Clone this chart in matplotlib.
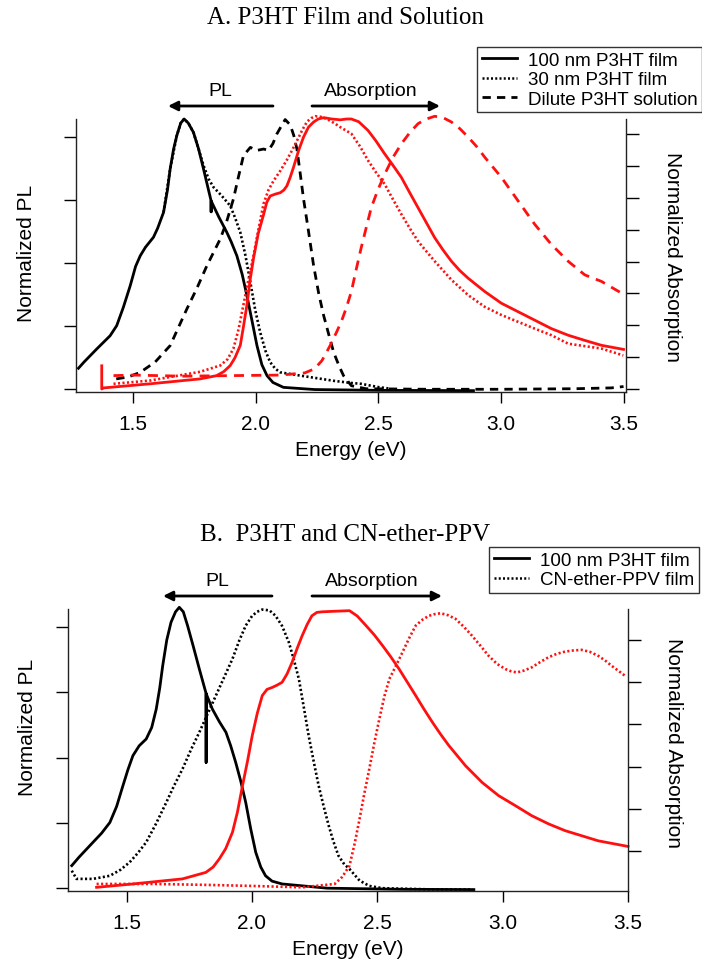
import numpy as np
import matplotlib.pyplot as plt
from matplotlib.lines import Line2D

plt.rcParams['font.family'] = ['Liberation Sans', 'DejaVu Sans']

# ---------------- panel A : P3HT film and solution ----------------
# PL (left axis), 100 nm film
a_pl100_E = [1.277, 1.30, 1.352, 1.406, 1.433, 1.46, 1.488, 1.51, 1.529, 1.55,
             1.583, 1.60, 1.624, 1.64, 1.651, 1.665, 1.678, 1.694, 1.708, 1.725,
             1.746, 1.767, 1.787, 1.818, 1.818, 1.818, 1.85, 1.882, 1.90, 1.923,
             1.945, 1.964, 1.985, 2.005, 2.025, 2.046, 2.07, 2.113, 2.24, 2.5, 2.888]
a_pl100_v = [0.087, 0.11, 0.158, 0.206, 0.243, 0.31, 0.389, 0.46, 0.499, 0.53,
             0.567, 0.60, 0.658, 0.74, 0.817, 0.89, 0.939, 0.985, 1.0, 0.985,
             0.951, 0.89, 0.817, 0.70, 0.66, 0.70, 0.64, 0.585, 0.55, 0.499,
             0.43, 0.353, 0.26, 0.17, 0.10, 0.06, 0.035, 0.017, 0.009, 0.006, 0.005]
# PL, 30 nm film
a_pl30_E = [1.624, 1.651, 1.678, 1.694, 1.708, 1.725, 1.746, 1.767, 1.787, 1.808,
            1.828, 1.86, 1.896, 1.915, 1.937, 1.958, 1.978, 1.998, 2.018, 2.04,
            2.059, 2.08, 2.1, 2.182, 2.318, 2.39, 2.43, 2.5, 2.55]
a_pl30_v = [0.658, 0.817, 0.939, 0.985, 1.0, 0.985, 0.951, 0.89, 0.83, 0.78,
            0.75, 0.72, 0.682, 0.64, 0.585, 0.50, 0.402, 0.30, 0.219, 0.15,
            0.109, 0.085, 0.072, 0.06, 0.041, 0.033, 0.03, 0.018, 0.012]
# PL, dilute solution
a_plsol_E = [1.431, 1.48, 1.529, 1.59, 1.651, 1.719, 1.76, 1.801, 1.855, 1.88,
             1.909, 1.93, 1.95, 1.978, 2.005, 2.032, 2.052, 2.07, 2.086, 2.105,
             2.12, 2.141, 2.155, 2.168, 2.18, 2.195, 2.215, 2.236, 2.257, 2.277,
             2.298, 2.318, 2.34, 2.358, 2.39, 2.45, 2.7, 3.0, 3.3, 3.45, 3.5]
a_plsol_v = [0.048, 0.055, 0.072, 0.11, 0.17, 0.304, 0.38, 0.463, 0.56, 0.62,
             0.707, 0.79, 0.866, 0.896, 0.885, 0.89, 0.885, 0.91, 0.945, 0.975,
             0.998, 0.978, 0.94, 0.89, 0.81, 0.707, 0.59, 0.463, 0.36, 0.28,
             0.21, 0.145, 0.095, 0.06, 0.023, 0.012, 0.01, 0.01, 0.012, 0.015, 0.02]
# absorption (right axis), 100 nm film
a_ab100_E = [1.372, 1.372, 1.38, 1.569, 1.773, 1.841, 1.87, 1.896, 1.915, 1.937,
             1.95, 1.964, 1.977, 1.991, 2.01, 2.032, 2.045, 2.059, 2.08, 2.1,
             2.115, 2.127, 2.14, 2.154, 2.175, 2.195, 2.215, 2.236, 2.255, 2.277,
             2.31, 2.345, 2.37, 2.39, 2.42, 2.458, 2.49, 2.526, 2.56, 2.594,
             2.628, 2.662, 2.696, 2.73, 2.764, 2.798, 2.832, 2.866, 2.934, 3.002,
             3.07, 3.138, 3.206, 3.274, 3.342, 3.41, 3.5]
a_ab100_v = [0.096, 0.011, 0.015, 0.03, 0.048, 0.06, 0.075, 0.097, 0.125, 0.171,
             0.24, 0.318, 0.41, 0.49, 0.58, 0.65, 0.695, 0.718, 0.725, 0.73,
             0.74, 0.755, 0.785, 0.823, 0.885, 0.934, 0.97, 0.989, 1.0, 1.005,
             1.0, 0.997, 1.0, 1.0, 0.99, 0.958, 0.92, 0.872, 0.83, 0.786,
             0.73, 0.675, 0.62, 0.565, 0.52, 0.479, 0.445, 0.417, 0.368, 0.325,
             0.294, 0.263, 0.232, 0.208, 0.189, 0.171, 0.156]
# absorption, 30 nm film
a_ab30_E = [1.42, 1.569, 1.773, 1.855, 1.885, 1.909, 1.93, 1.95, 1.97, 1.991,
            2.012, 2.032, 2.052, 2.073, 2.1, 2.127, 2.148, 2.168, 2.19, 2.209,
            2.226, 2.243, 2.265, 2.29, 2.32, 2.345, 2.39, 2.425, 2.458, 2.49,
            2.526, 2.56, 2.594, 2.628, 2.662, 2.696, 2.73, 2.798, 2.866, 2.934,
            3.002, 3.07, 3.138, 3.206, 3.274, 3.342, 3.41, 3.499]
a_ab30_v = [0.03, 0.042, 0.074, 0.097, 0.12, 0.159, 0.23, 0.32, 0.41, 0.50,
            0.60, 0.69, 0.74, 0.774, 0.81, 0.85, 0.885, 0.92, 0.96, 0.99,
            1.003, 1.01, 1.008, 1.0, 0.985, 0.97, 0.946, 0.9, 0.848, 0.805,
            0.761, 0.705, 0.651, 0.6, 0.552, 0.515, 0.479, 0.411, 0.355, 0.312,
            0.282, 0.257, 0.232, 0.208, 0.177, 0.168, 0.159, 0.134]
# absorption, dilute solution
a_absol_E = [1.42, 1.5, 1.7, 1.9, 2.1, 2.2, 2.24, 2.27, 2.304, 2.33, 2.35, 2.37,
             2.39, 2.41, 2.43, 2.45, 2.471, 2.498, 2.526, 2.56, 2.594, 2.628,
             2.662, 2.696, 2.73, 2.764, 2.798, 2.832, 2.866, 2.9, 2.934, 3.002,
             3.07, 3.138, 3.206, 3.274, 3.342, 3.41, 3.492]
a_absol_v = [0.06, 0.062, 0.058, 0.06, 0.062, 0.07, 0.085, 0.115, 0.171, 0.22,
             0.26, 0.31, 0.368, 0.45, 0.528, 0.6, 0.675, 0.74, 0.798, 0.86,
             0.909, 0.95, 0.983, 1.0, 1.01, 1.005, 0.989, 0.965, 0.934, 0.9,
             0.86, 0.786, 0.70, 0.614, 0.54, 0.479, 0.429, 0.405, 0.362]

# ---------------- panel B : P3HT and CN-ether-PPV ----------------
b_pl100_E = [1.281, 1.31, 1.366, 1.40, 1.433, 1.46, 1.485, 1.505, 1.525, 1.55,
             1.578, 1.60, 1.618, 1.632, 1.644, 1.66, 1.677, 1.695, 1.71, 1.726,
             1.743, 1.765, 1.79, 1.817, 1.817, 1.817, 1.842, 1.87, 1.896, 1.915,
             1.935, 1.955, 1.975, 1.995, 2.015, 2.035, 2.054, 2.08, 2.12, 2.3,
             2.6, 2.885]
b_pl100_v = [0.09, 0.12, 0.173, 0.205, 0.243, 0.30, 0.373, 0.43, 0.48, 0.515,
             0.539, 0.58, 0.645, 0.72, 0.80, 0.89, 0.953, 0.99, 1.006, 0.99,
             0.941, 0.87, 0.787, 0.70, 0.456, 0.70, 0.645, 0.60, 0.563, 0.515,
             0.456, 0.39, 0.314, 0.22, 0.137, 0.085, 0.054, 0.035, 0.025, 0.01,
             0.006, 0.005]
b_plppv_E = [1.281, 1.3, 1.366, 1.433, 1.475, 1.512, 1.545, 1.578, 1.618, 1.658,
             1.69, 1.723, 1.756, 1.79, 1.823, 1.856, 1.89, 1.922, 1.95, 1.975,
             2.0, 2.02, 2.041, 2.07, 2.094, 2.12, 2.147, 2.167, 2.187, 2.207,
             2.226, 2.246, 2.266, 2.286, 2.306, 2.325, 2.345, 2.368, 2.389, 2.429,
             2.468, 2.52, 2.7, 2.88]
b_plppv_v = [0.072, 0.043, 0.043, 0.054, 0.075, 0.102, 0.135, 0.173, 0.24, 0.314,
             0.375, 0.433, 0.50, 0.563, 0.628, 0.693, 0.76, 0.823, 0.89, 0.941,
             0.975, 0.99, 0.998, 0.995, 0.976, 0.94, 0.882, 0.82, 0.752, 0.65,
             0.551, 0.46, 0.373, 0.30, 0.232, 0.175, 0.125, 0.095, 0.078, 0.037,
             0.018, 0.01, 0.006, 0.005]
b_ab100_E = [1.38, 1.525, 1.723, 1.816, 1.845, 1.869, 1.895, 1.922, 1.942, 1.962,
             1.982, 2.001, 2.021, 2.041, 2.06, 2.081, 2.1, 2.12, 2.14, 2.16,
             2.18, 2.2, 2.22, 2.239, 2.259, 2.279, 2.33, 2.389, 2.42, 2.455,
             2.488, 2.521, 2.554, 2.587, 2.62, 2.653, 2.686, 2.72, 2.753, 2.786,
             2.852, 2.918, 2.984, 3.05, 3.116, 3.183, 3.249, 3.315, 3.381, 3.5]
b_ab100_v = [0.013, 0.025, 0.043, 0.066, 0.085, 0.113, 0.15, 0.208, 0.28, 0.373,
             0.46, 0.551, 0.63, 0.693, 0.715, 0.722, 0.73, 0.74, 0.77, 0.811,
             0.86, 0.905, 0.945, 0.976, 0.988, 0.99, 0.992, 0.994, 0.975, 0.941,
             0.908, 0.87, 0.83, 0.787, 0.74, 0.693, 0.645, 0.598, 0.555, 0.515,
             0.444, 0.385, 0.338, 0.303, 0.267, 0.238, 0.214, 0.196, 0.178, 0.158]
b_abppv_E = [1.38, 1.6, 1.8, 2.0, 2.2, 2.33, 2.36, 2.389, 2.41, 2.429, 2.448,
             2.468, 2.488, 2.508, 2.528, 2.548, 2.575, 2.6, 2.626, 2.653, 2.68,
             2.706, 2.73, 2.753, 2.782, 2.812, 2.845, 2.878, 2.911, 2.944, 2.978,
             3.011, 3.034, 3.057, 3.086, 3.116, 3.15, 3.183, 3.216, 3.249, 3.282,
             3.315, 3.348, 3.381, 3.408, 3.434, 3.46, 3.487]
b_abppv_v = [0.025, 0.025, 0.022, 0.018, 0.013, 0.025, 0.05, 0.09, 0.17, 0.255,
             0.345, 0.433, 0.525, 0.61, 0.69, 0.752, 0.80, 0.846, 0.895, 0.941,
             0.962, 0.976, 0.982, 0.985, 0.978, 0.965, 0.937, 0.905, 0.87, 0.834,
             0.805, 0.787, 0.779, 0.775, 0.782, 0.793, 0.812, 0.829, 0.841, 0.849,
             0.853, 0.855, 0.848, 0.834, 0.818, 0.799, 0.782, 0.764]

x_ticks = [1.5, 2.0, 2.5, 3.0, 3.5]
x_ticklabels = ['1.5', '2.0', '2.5', '3.0', '3.5']

W, H = 702, 962
RED = '#ff1010'
solid = '-'
dotted = (0, (0.8, 0.9))
dashed = (0, (3.0, 2.2))
red_dashed = (0, (3.6, 2.6))


def fx(px):
    return px / W


def fy(py):
    return 1 - py / H


fig = plt.figure(figsize=(W / 100, H / 100), dpi=100)


def setup(ax, ax2, xlim, lticks, rticks):
    ax.set_xlim(*xlim)
    ax.set_ylim(0, 1.0)
    ax2.set_ylim(0, 1.0)
    ax.set_xticks(x_ticks)
    ax.set_xticklabels(x_ticklabels)
    ax.set_yticks(lticks)
    ax2.set_yticks(rticks)
    ax.tick_params(axis='x', direction='out', length=8, width=1, labelsize=15, pad=8)
    ax.tick_params(axis='y', direction='out', length=9, width=1, labelleft=False)
    ax2.tick_params(axis='y', direction='out', length=9, width=1, labelright=False)
    for a in (ax, ax2):
        a.spines['top'].set_visible(False)
        for s in a.spines.values():
            s.set_linewidth(1.0)
            s.set_color('#222222')
    ax.spines['right'].set_visible(False)
    ax2.spines['left'].set_visible(False)
    ax2.spines['bottom'].set_visible(False)
    ax.set_xlabel('Energy (eV)', fontsize=15, labelpad=5)


def arrows(y_arrow, y_text, pl_x, ab_x):
    for x0, x1 in (pl_x, ab_x):
        fig.add_artist(plt.Annotation('', xy=(fx(x1), fy(y_arrow)), xytext=(fx(x0), fy(y_arrow)),
                                      xycoords='figure fraction', textcoords='figure fraction',
                                      arrowprops=dict(arrowstyle='-|>', color='black', lw=2,
                                                      mutation_scale=14, shrinkA=0, shrinkB=0)))
    fig.text(fx((pl_x[0] + pl_x[1]) / 2), fy(y_text), 'PL', fontsize=14, ha='center', va='center')
    fig.text(fx((ab_x[0] + ab_x[1]) / 2 - 5), fy(y_text), 'Absorption', fontsize=14,
             ha='center', va='center')


LW = 2.0
DLW = 1.9

# ---------------- top panel ----------------
axA = fig.add_axes([fx(76), fy(393), (626 - 76) / W, (393 - 120) / H])
axA2 = axA.twinx()
axA.plot(a_pl100_E, a_pl100_v, color='black', ls=solid, lw=LW, clip_on=False)
axA.plot(a_pl30_E, a_pl30_v, color='black', ls=dotted, lw=DLW, clip_on=False)
axA.plot(a_plsol_E, a_plsol_v, color='black', ls=dashed, lw=LW, clip_on=False)
axA2.plot(a_ab100_E, a_ab100_v, color=RED, ls=solid, lw=LW, clip_on=False)
axA2.plot(a_ab30_E, a_ab30_v, color=RED, ls=dotted, lw=DLW, clip_on=False)
axA2.plot(a_absol_E, a_absol_v, color=RED, ls=red_dashed, lw=LW, clip_on=False)
setup(axA, axA2, (1.267, 3.51), np.linspace(0.01, 0.935, 5), np.linspace(0.011, 0.945, 9))
axA.set_ylabel('Normalized PL', fontsize=15)
axA.yaxis.set_label_coords(-0.072, 0.51)
axA2.set_ylabel('Normalized Absorption', fontsize=15, rotation=270, va='bottom')
axA2.yaxis.set_label_coords(1.068, 0.5)

fig.text(fx(345), fy(18), 'A. P3HT Film and Solution', family='Liberation Serif',
         fontsize=18, ha='center', va='center')
arrows(107, 92, (273, 168), (312, 440))

legA = fig.legend([Line2D([], [], color='black', ls=solid, lw=2),
                   Line2D([], [], color='black', ls=dotted, lw=1.8),
                   Line2D([], [], color='black', ls=dashed, lw=2)],
                  ['100 nm P3HT film', '30 nm P3HT film', 'Dilute P3HT solution'],
                  loc='upper left', bbox_to_anchor=(fx(477), fy(48)), fontsize=13.5,
                  frameon=True, fancybox=False, framealpha=1, edgecolor='#333333',
                  borderpad=0.25, labelspacing=0.12, handlelength=1.9, handletextpad=0.55,
                  borderaxespad=0)
legA.get_frame().set_linewidth(1.0)

# ---------------- bottom panel ----------------
axB = fig.add_axes([fx(68), fy(892), (628 - 68) / W, (892 - 610) / H])
axB2 = axB.twinx()
axB.plot(b_pl100_E, b_pl100_v, color='black', ls=solid, lw=LW, clip_on=False)
axB.plot(b_plppv_E, b_plppv_v, color='black', ls=dotted, lw=DLW, clip_on=False)
axB2.plot(b_ab100_E, b_ab100_v, color=RED, ls=solid, lw=LW, clip_on=False)
axB2.plot(b_abppv_E, b_abppv_v, color=RED, ls=dotted, lw=DLW, clip_on=False)
setup(axB, axB2, (1.266, 3.49), np.linspace(0.01, 0.936, 5), np.linspace(0.142, 0.89, 6))
axB.set_ylabel('Normalized PL', fontsize=15)
axB.yaxis.set_label_coords(-0.056, 0.585)
axB2.set_ylabel('Normalized Absorption', fontsize=15, rotation=270, va='bottom')
axB2.yaxis.set_label_coords(1.064, 0.53)

fig.text(fx(345), fy(535), 'B.  P3HT and CN-ether-PPV', family='Liberation Serif',
         fontsize=18, ha='center', va='center')
arrows(597, 582, (272, 163), (312, 442))

legB = fig.legend([Line2D([], [], color='black', ls=solid, lw=2),
                   Line2D([], [], color='black', ls=dotted, lw=1.8)],
                  ['100 nm P3HT film', 'CN-ether-PPV film'],
                  loc='upper left', bbox_to_anchor=(fx(489), fy(548)), fontsize=13.5,
                  frameon=True, fancybox=False, framealpha=1, edgecolor='#333333',
                  borderpad=0.25, labelspacing=0.12, handlelength=1.9, handletextpad=0.55,
                  borderaxespad=0)
legB.get_frame().set_linewidth(1.0)

fig.savefig('out.png', dpi=100)
